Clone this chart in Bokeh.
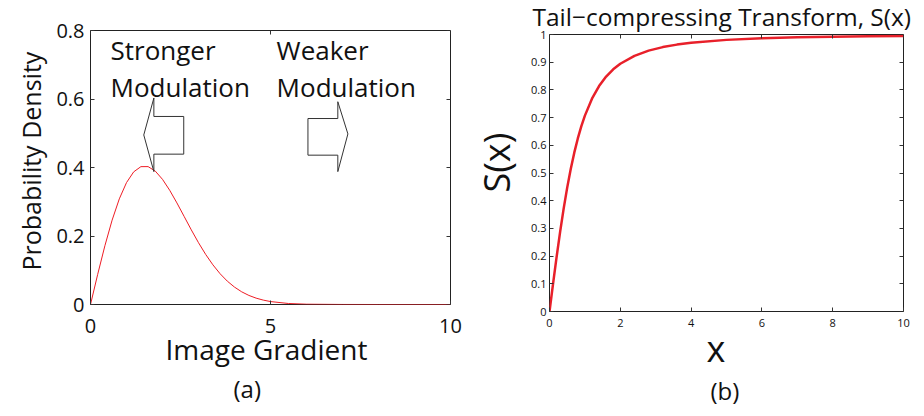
import math
from bokeh.plotting import figure
from bokeh.layouts import row
from bokeh.models import Range1d, LinearAxis, FixedTicker, Label, Title
from bokeh.embed import file_html
from bokeh.resources import INLINE

FONT = "Open Sans"

# ---- panel (a): density of image gradient magnitudes ----
grad_x = [0.0, 0.2, 0.4, 0.6, 0.8, 1.0, 1.2, 1.4, 1.6, 1.8, 2.0, 2.2, 2.4, 2.6, 2.8,
          3.0, 3.2, 3.4, 3.6, 3.8, 4.0, 4.2, 4.4, 4.6, 4.8, 5.0, 5.5, 6.0, 7.0, 8.0, 10.0]
density = [0.0, 0.0881, 0.1716, 0.2462, 0.3084, 0.3559, 0.3873, 0.4025, 0.4026, 0.3894,
           0.3654, 0.3335, 0.2966, 0.2573, 0.2179, 0.1804, 0.1461, 0.1158, 0.0898, 0.0682,
           0.0508, 0.0370, 0.0265, 0.0186, 0.0128, 0.0086, 0.0029, 0.0009, 0.0001, 0.0, 0.0]
a_xticks = [0, 5, 10]
a_xtick_labels = ["0", "5", "10"]
a_yticks = [0, 0.2, 0.4, 0.6, 0.8]
a_ytick_labels = ["0", "0.2", "0.4", "0.6", "0.8"]

# ---- panel (b): tail-compressing transform ----
s_x = [0.0, 0.1, 0.2, 0.3, 0.4, 0.5, 0.6, 0.7, 0.8, 0.9, 1.0, 1.2, 1.4, 1.6, 1.8, 2.0,
       2.4, 2.8, 3.2, 3.6, 4.0, 5.0, 6.0, 7.0, 8.0, 9.0, 10.0]
s_val = [0.0, 0.0995, 0.1961, 0.2873, 0.3714, 0.4472, 0.5145, 0.5735, 0.6247, 0.6690,
         0.7071, 0.7682, 0.8137, 0.8480, 0.8742, 0.8944, 0.9231, 0.9417, 0.9545, 0.9635,
         0.9701, 0.9806, 0.9864, 0.9899, 0.9923, 0.9939, 0.9950]
b_xticks = [0, 2, 4, 6, 8, 10]
b_xtick_labels = ["0", "2", "4", "6", "8", "10"]
b_yticks = [0, 0.1, 0.2, 0.3, 0.4, 0.5, 0.6, 0.7, 0.8, 0.9, 1]
b_ytick_labels = ["0", "0.1", "0.2", "0.3", "0.4", "0.5", "0.6", "0.7", "0.8", "0.9", "1"]

# block arrows (data coordinates of panel a)
left_arrow_x = [1.76, 1.48, 1.76, 1.76, 2.59, 2.59, 1.76]
left_arrow_y = [0.603, 0.495, 0.388, 0.439, 0.439, 0.549, 0.549]
right_arrow_x = [6.04, 6.87, 6.87, 7.15, 6.87, 6.87, 6.04]
right_arrow_y = [0.543, 0.543, 0.592, 0.498, 0.388, 0.436, 0.436]


def style_box(p, xticks, xlabels, yticks, ylabels, font_size, x_standoff, y_standoff):
    """MATLAB-like box: inward ticks on all four sides, labels on bottom/left."""
    p.outline_line_color = "#222222"
    p.outline_line_width = 1
    p.xgrid.visible = False
    p.ygrid.visible = False
    p.background_fill_color = "white"
    p.border_fill_color = "white"
    # tick-only axes pinned to the top and right edges of the frame
    p.add_layout(LinearAxis(fixed_location=p.y_range.end), "above")
    p.add_layout(LinearAxis(fixed_location=p.x_range.end), "right")
    for ax in p.xaxis:
        ax.ticker = FixedTicker(ticks=xticks)
        ax.major_label_overrides = {t: l for t, l in zip(xticks, xlabels)}
    for ax in p.yaxis:
        ax.ticker = FixedTicker(ticks=yticks)
        ax.major_label_overrides = {t: l for t, l in zip(yticks, ylabels)}
    for ax in p.axis:
        ax.axis_line_color = None
        ax.major_tick_in = 4
        ax.major_tick_out = 0
        ax.major_tick_line_color = "#333333"
        ax.minor_tick_line_color = None
        ax.major_label_text_font = FONT
        ax.major_label_text_font_size = font_size
        ax.major_label_text_color = "#111111"
    p.below[0].major_label_standoff = x_standoff
    p.left[0].major_label_standoff = y_standoff
    for ax in (p.above[-1], p.right[-1]):
        ax.major_label_text_color = None


def add_text(p, x, y, text, size):
    p.add_layout(Label(x=x, y=y, text=text, text_font=FONT, text_font_size=size,
                       text_align="left", text_baseline="alphabetic", text_color="#111111"))


def add_title(p, text, side, size, offset, standoff):
    p.add_layout(Title(text=text, align="left", offset=offset, standoff=standoff,
                       text_font=FONT, text_font_size=size, text_font_style="normal",
                       text_color="#111111"), side)


# ---------------- panel (a) ----------------
pa = figure(width=462, height=416, output_backend="svg", toolbar_location=None, title=None,
            x_range=Range1d(0, 10), y_range=Range1d(0, 0.8), frame_align=False,
            min_border_left=90, min_border_right=12, min_border_top=30, min_border_bottom=112)
style_box(pa, a_xticks, a_xtick_labels, a_yticks, a_ytick_labels, "20px", 14, 6)
add_title(pa, "Probability Density", "left", "25px", 34, 11)
add_title(pa, "Image Gradient", "below", "28px", 75, -16)
add_title(pa, "(a)", "below", "24px", 143, 21)
pa.line(grad_x, density, line_color="#ee1c24", line_width=1)
for xs, ys in ((left_arrow_x, left_arrow_y), (right_arrow_x, right_arrow_y)):
    pa.patch(xs, ys, fill_color="white", line_color="#333333", line_width=1)
add_text(pa, 0.556, 0.743, "Stronger", "26px")
add_text(pa, 0.556, 0.635, "Modulation", "26px")
add_text(pa, 5.17, 0.743, "Weaker", "26px")
add_text(pa, 5.17, 0.635, "Modulation", "26px")

# ---------------- panel (b) ----------------
pb = figure(width=462, height=420, output_backend="svg", toolbar_location=None, title=None,
            x_range=Range1d(0, 10), y_range=Range1d(0, 1), frame_align=False,
            min_border_left=84, min_border_right=21, min_border_top=36, min_border_bottom=105)
pb.margin = (-4, 0, 0, 0)
style_box(pb, b_xticks, b_xtick_labels, b_yticks, b_ytick_labels, "11px", 7, 3)
add_title(pb, "Tail\u2212compressing Transform, S(x)", "above", "24.5px", -17, 3)
add_title(pb, "S(x)", "left", "36px", 119, 15)
add_title(pb, "x", "below", "36px", 157, -15)
add_title(pb, "(b)", "below", "24px", 161, 12)
pb.line(s_x, s_val, line_color="#e8202a", line_width=2.5)

layout = row(pa, pb)
open("out.html", "w").write(file_html(layout, INLINE))
